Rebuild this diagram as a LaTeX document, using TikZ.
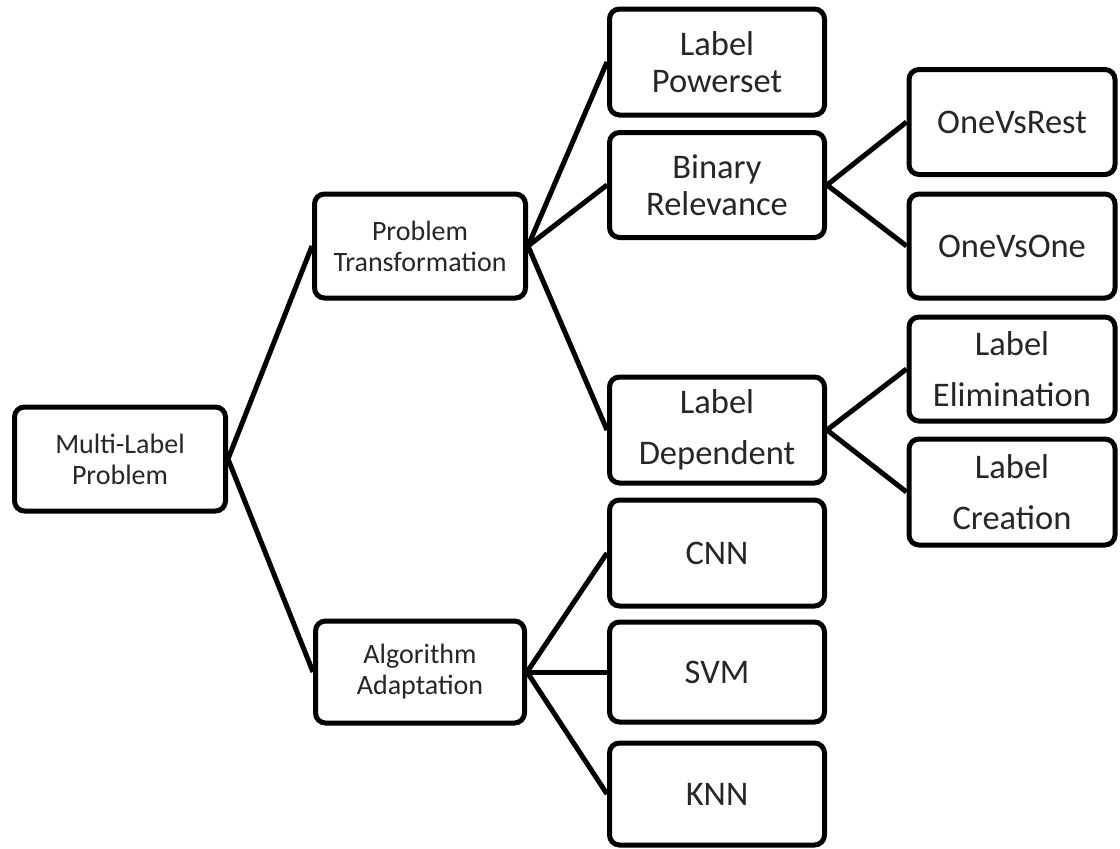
\documentclass[tikz,border=0pt]{standalone}
\usepackage{fontspec}
\setmainfont{Carlito}
\begin{document}
\begin{tikzpicture}[x=1pt,y=-1pt,
  box/.style={draw=black, line width=5pt, rounded corners=10pt, fill=white, inner sep=0pt, align=center, text=black!85},
  big/.style={box, font=\fontsize{34.5}{37}\selectfont},
  bigwide/.style={box, font=\fontsize{34.5}{51}\selectfont},
  small/.style={box, font=\fontsize{28}{31}\selectfont},
  conn/.style={draw=black, line width=5pt}]
\useasboundingbox (0,0) rectangle (1120,849);
% level 0
\node[small, minimum width=211pt, minimum height=104pt] (mlp) at (120,459) {Multi-Label\\Problem};
% level 1
\node[small, minimum width=211pt, minimum height=104pt] (pt) at (420,246) {Problem\\Transformation};
\node[small, minimum width=209pt, minimum height=102pt] (aa) at (420,672) {Algorithm\\Adaptation};
% level 2
\node[big, minimum width=215pt, minimum height=106pt] (lp) at (717,62) {Label\\Powerset};
\node[big, minimum width=215pt, minimum height=105pt] (br) at (717,185) {Binary\\Relevance};
\node[bigwide, minimum width=215pt, minimum height=106pt] (ld) at (717,430) {Label\\Dependent};
\node[big, minimum width=215pt, minimum height=106pt] (cnn) at (717,553) {CNN};
\node[big, minimum width=215pt, minimum height=100pt] (svm) at (717,672) {SVM};
\node[big, minimum width=215pt, minimum height=102pt] (knn) at (717,794) {KNN};
% level 3
\node[big, minimum width=206pt, minimum height=105pt] (ovr) at (1012,122) {OneVsRest};
\node[big, minimum width=206pt, minimum height=104pt] (ovo) at (1012,246) {OneVsOne};
\node[bigwide, minimum width=206pt, minimum height=104pt] (le) at (1012,369) {Label\\Elimination};
\node[bigwide, minimum width=206pt, minimum height=106pt] (lc) at (1012,492) {Label\\Creation};
% connectors
\draw[conn] (mlp.east) -- (pt.west);
\draw[conn] (mlp.east) -- (aa.west);
\draw[conn] (pt.east) -- (lp.west);
\draw[conn] (pt.east) -- (br.west);
\draw[conn] (pt.east) -- (ld.west);
\draw[conn] (br.east) -- (ovr.west);
\draw[conn] (br.east) -- (ovo.west);
\draw[conn] (ld.east) -- (le.west);
\draw[conn] (ld.east) -- (lc.west);
\draw[conn] (aa.east) -- (cnn.west);
\draw[conn] (aa.east) -- (svm.west);
\draw[conn] (aa.east) -- (knn.west);
\end{tikzpicture}
\end{document}
